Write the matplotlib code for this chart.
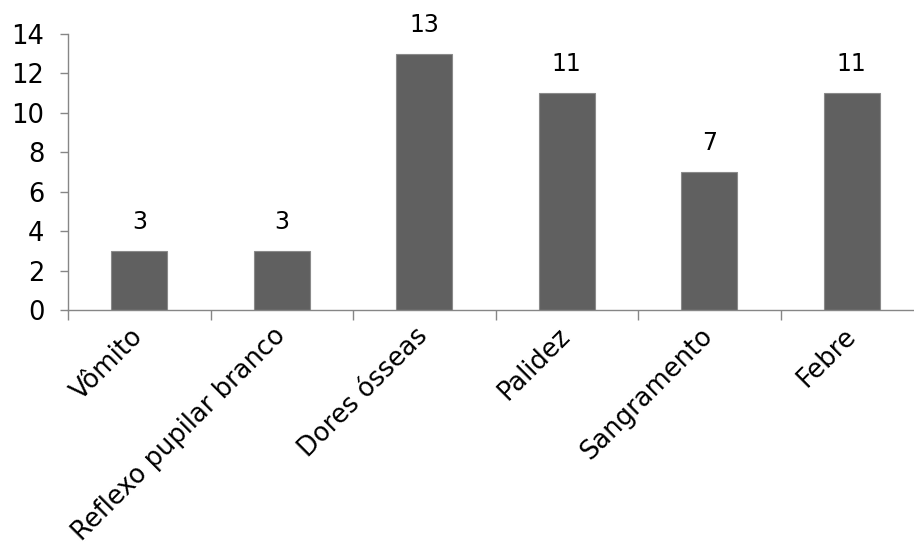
import matplotlib
matplotlib.use("Agg")
import matplotlib.pyplot as plt
import numpy as np

categories = ["Vômito", "Reflexo pupilar branco", "Dores ósseas", "Palidez", "Sangramento", "Febre"]
values = [3, 3, 13, 11, 7, 11]
yticks = [0, 2, 4, 6, 8, 10, 12, 14]

plt.rcParams['font.family'] = ['DejaVu Sans']
fig = plt.figure(figsize=(9.14, 5.58), dpi=100)
W, H = 914, 558
left, right = 68, 923
bottom, top = 310, 34
ax = fig.add_axes([left / W, (H - bottom) / H, (right - left) / W, (bottom - top) / H])

x = np.arange(len(categories))
bars = ax.bar(x, values, width=0.39, color="#606060", edgecolor="#8a8a8a", linewidth=0.8, zorder=2)
for xi, v in zip(x, values):
    ax.annotate(str(v), (xi, v), xytext=(0, 12), textcoords="offset points",
                ha="center", va="bottom", fontsize=17, color="black")

ax.set_xlim(-0.5, len(categories) - 0.5)
ax.set_ylim(0, 14)
ax.set_yticks(yticks)
ax.set_yticklabels([str(t) for t in yticks], fontsize=18.5)

ax.set_xticks(np.arange(len(categories) + 1) - 0.5)
ax.set_xticklabels([])
ax.set_xticks(x, minor=True)
ax.set_xticklabels(categories, minor=True, rotation=45, ha="right", va="center",
                   rotation_mode="anchor", fontsize=18.5)
ax.tick_params(axis="x", which="minor", length=0, pad=16)
ax.tick_params(axis="x", which="major", length=7, color="#868686", width=1)
ax.tick_params(axis="y", length=6, color="#868686", width=1, pad=11)

for s in ["top", "right"]:
    ax.spines[s].set_visible(False)
for s in ["left", "bottom"]:
    ax.spines[s].set_color("#868686")
    ax.spines[s].set_linewidth(1)

fig.savefig("out.png", dpi=100)
